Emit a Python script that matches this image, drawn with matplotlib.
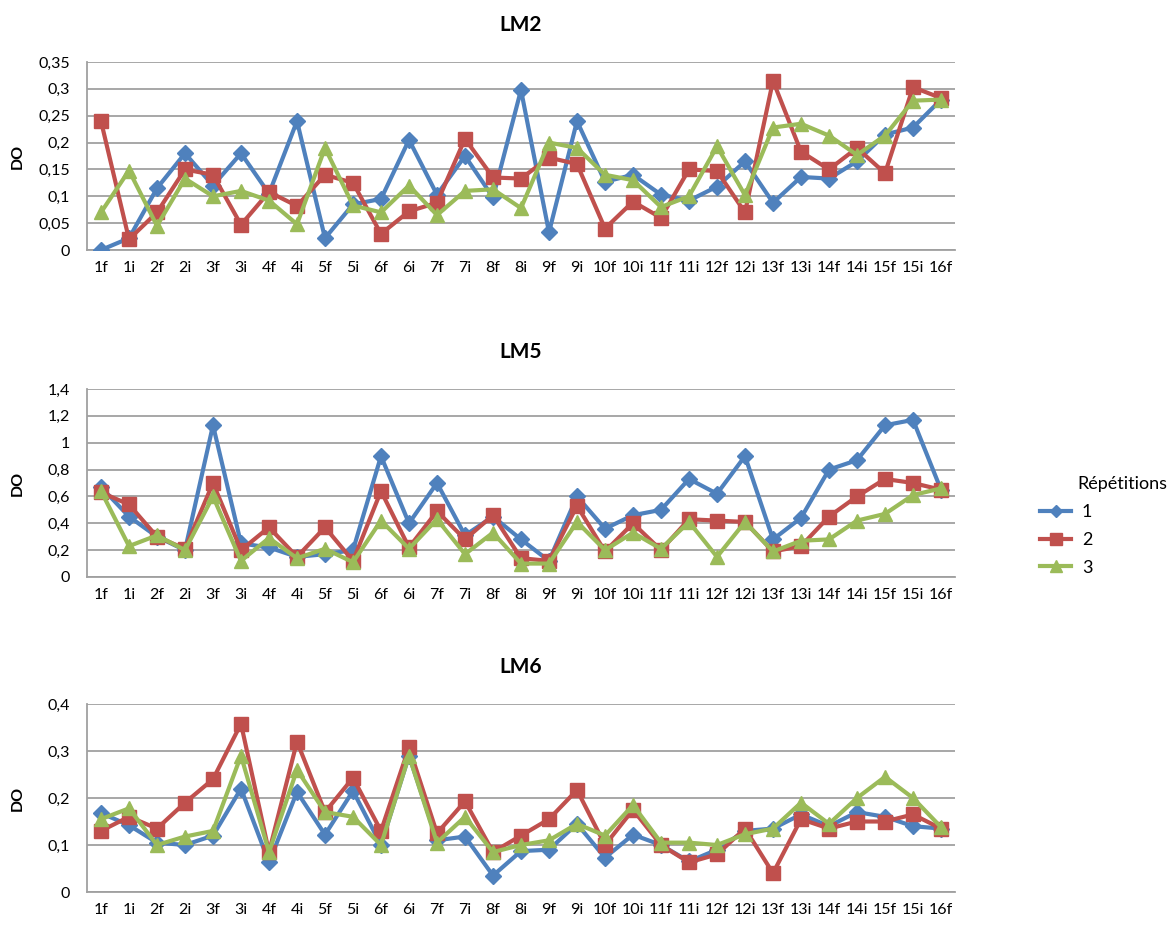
import matplotlib
matplotlib.use("Agg")
import matplotlib.pyplot as plt
from matplotlib.lines import Line2D

plt.rcParams['font.family'] = ['Lato', 'DejaVu Sans']

categories = ['1f', '1i', '2f', '2i', '3f', '3i', '4f', '4i', '5f', '5i', '6f', '6i',
              '7f', '7i', '8f', '8i', '9f', '9i', '10f', '10i', '11f', '11i', '12f',
              '12i', '13f', '13i', '14f', '14i', '15f', '15i', '16f']

series_names = ['1', '2', '3']
legend_title = 'Répétitions'

lm2_rep1 = [0.0, 0.022, 0.115, 0.18, 0.12, 0.18, 0.105, 0.24, 0.022, 0.085, 0.095, 0.205,
            0.103, 0.175, 0.098, 0.298, 0.033, 0.24, 0.127, 0.14, 0.103, 0.092, 0.118,
            0.165, 0.088, 0.136, 0.133, 0.165, 0.215, 0.228, 0.28]
lm2_rep2 = [0.24, 0.02, 0.07, 0.15, 0.14, 0.047, 0.108, 0.082, 0.14, 0.125, 0.03, 0.072,
            0.088, 0.207, 0.135, 0.133, 0.172, 0.16, 0.04, 0.09, 0.06, 0.15, 0.147,
            0.07, 0.315, 0.183, 0.15, 0.19, 0.143, 0.303, 0.283]
lm2_rep3 = [0.07, 0.148, 0.045, 0.133, 0.1, 0.11, 0.092, 0.048, 0.19, 0.083, 0.07, 0.12,
            0.065, 0.11, 0.113, 0.078, 0.2, 0.19, 0.14, 0.13, 0.08, 0.1, 0.193,
            0.102, 0.228, 0.235, 0.213, 0.177, 0.213, 0.278, 0.28]

lm5_rep1 = [0.67, 0.45, 0.3, 0.2, 1.13, 0.25, 0.22, 0.15, 0.17, 0.2, 0.9, 0.4,
            0.7, 0.31, 0.45, 0.28, 0.12, 0.6, 0.36, 0.46, 0.5, 0.73, 0.62,
            0.9, 0.28, 0.44, 0.8, 0.87, 1.13, 1.17, 0.65]
lm5_rep2 = [0.63, 0.54, 0.3, 0.21, 0.7, 0.2, 0.37, 0.15, 0.37, 0.12, 0.64, 0.22,
            0.49, 0.28, 0.46, 0.14, 0.12, 0.53, 0.19, 0.4, 0.2, 0.43, 0.42,
            0.41, 0.19, 0.23, 0.45, 0.6, 0.73, 0.7, 0.65]
lm5_rep3 = [0.64, 0.23, 0.31, 0.2, 0.6, 0.12, 0.29, 0.14, 0.21, 0.11, 0.42, 0.21,
            0.43, 0.17, 0.33, 0.1, 0.1, 0.41, 0.2, 0.33, 0.21, 0.41, 0.15,
            0.41, 0.19, 0.27, 0.28, 0.42, 0.47, 0.61, 0.66]

lm6_rep1 = [0.168, 0.142, 0.105, 0.1, 0.12, 0.22, 0.063, 0.213, 0.122, 0.215, 0.1, 0.29,
            0.11, 0.118, 0.035, 0.087, 0.09, 0.145, 0.073, 0.122, 0.1, 0.065, 0.09,
            0.13, 0.135, 0.165, 0.14, 0.17, 0.16, 0.14, 0.135]
lm6_rep2 = [0.13, 0.16, 0.135, 0.19, 0.24, 0.358, 0.085, 0.32, 0.17, 0.243, 0.13, 0.308,
            0.125, 0.193, 0.085, 0.12, 0.155, 0.217, 0.1, 0.175, 0.1, 0.063, 0.08,
            0.135, 0.04, 0.155, 0.135, 0.15, 0.15, 0.165, 0.135]
lm6_rep3 = [0.155, 0.178, 0.1, 0.118, 0.13, 0.29, 0.085, 0.26, 0.17, 0.16, 0.1, 0.29,
            0.105, 0.16, 0.085, 0.1, 0.11, 0.145, 0.12, 0.185, 0.105, 0.105, 0.1,
            0.123, 0.135, 0.19, 0.145, 0.2, 0.245, 0.2, 0.138]

lm2_ticks = [0, 0.05, 0.1, 0.15, 0.2, 0.25, 0.3, 0.35]
lm2_ticklabels = ['0', '0,05', '0,1', '0,15', '0,2', '0,25', '0,3', '0,35']
lm5_ticks = [0, 0.2, 0.4, 0.6, 0.8, 1.0, 1.2, 1.4]
lm5_ticklabels = ['0', '0,2', '0,4', '0,6', '0,8', '1', '1,2', '1,4']
lm6_ticks = [0, 0.1, 0.2, 0.3, 0.4]
lm6_ticklabels = ['0', '0,1', '0,2', '0,3', '0,4']

colors = ['#4F81BD', '#C0504D', '#9BBB59']
markers = ['D', 's', '^']
msizes = [8, 10, 10]

panels = [
    ('LM2', [lm2_rep1, lm2_rep2, lm2_rep3], lm2_ticks, lm2_ticklabels, 250),
    ('LM5', [lm5_rep1, lm5_rep2, lm5_rep3], lm5_ticks, lm5_ticklabels, 577),
    ('LM6', [lm6_rep1, lm6_rep2, lm6_rep3], lm6_ticks, lm6_ticklabels, 892),
]

W, H = 1176, 927
fig = plt.figure(figsize=(W / 100, H / 100), dpi=100)

x = list(range(len(categories)))
left, right, height = 87, 955, 188
for title, data, ticks, ticklabels, ybot in panels:
    ax = fig.add_axes([left / W, 1 - ybot / H, (right - left) / W, height / H])
    for s, (vals, c, m, ms) in enumerate(zip(data, colors, markers, msizes)):
        ax.plot(x, vals, color=c, marker=m, markersize=ms, linewidth=3,
                markeredgecolor=c, zorder=3 + s)
    ax.set_xlim(-0.5, len(categories) - 0.5)
    ax.set_ylim(ticks[0], ticks[-1])
    ax.set_yticks(ticks)
    ax.set_yticklabels(ticklabels, fontsize=11.5)
    ax.set_xticks(x)
    ax.set_xticklabels(categories, fontsize=11.5)
    ax.tick_params(axis='both', length=0, pad=8)
    ax.tick_params(axis='y', pad=12)
    ax.grid(axis='y', color='#A0A0A0', linewidth=1.3)
    ax.set_axisbelow(True)
    for side in ['top', 'right']:
        ax.spines[side].set_visible(False)
    for side in ['left', 'bottom']:
        ax.spines[side].set_color('#A0A0A0')
        ax.spines[side].set_linewidth(1.3)
    ax.set_ylabel('DO', fontsize=11.5, fontweight='bold')
    ax.yaxis.set_label_coords((25 - left) / (right - left), 0.5)
    ax.set_title(title, fontsize=15, fontweight='bold', pad=22)

handles = [Line2D([0], [0], color=c, marker=m, markersize=ms - 2, linewidth=3)
           for c, m, ms in zip(colors, markers, msizes)]
leg = fig.legend(handles, series_names, loc='upper left',
                 bbox_to_anchor=(1024 / W, 1 - 488 / H), frameon=False,
                 fontsize=13, handlelength=1.7, handletextpad=0.6,
                 labelspacing=0.65)
fig.text(1077 / W, 1 - 484 / H, legend_title, fontsize=13, ha='left', va='center')

fig.savefig('out.png', dpi=100)
